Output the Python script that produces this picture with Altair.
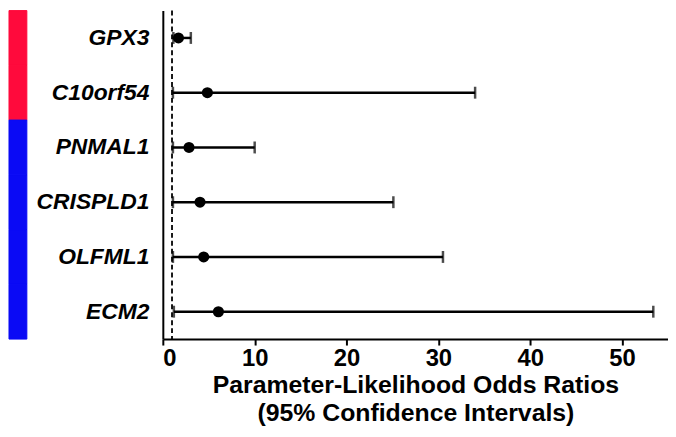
import altair as alt
import pandas as pd

genes = ["GPX3", "C10orf54", "PNMAL1", "CRISPLD1", "OLFML1", "ECM2"]
odds = [1.7, 4.85, 2.85, 4.05, 4.45, 6.05]
lower = [1.15, 1.1, 1.1, 1.1, 1.1, 1.2]
upper = [3.05, 34.0, 10.0, 25.1, 30.5, 53.4]
group = ["Up", "Up", "Down", "Down", "Down", "Down"]
x_ticks = [0, 10, 20, 30, 40, 50]
ref_line = [1]

df = pd.DataFrame({"gene": genes, "odds": odds, "lo": lower, "hi": upper, "group": group})
ref = pd.DataFrame({"v": ref_line})

FONT = "Liberation Sans"

y_enc = alt.Y("gene:N", sort=genes,
              scale=alt.Scale(paddingInner=0, paddingOuter=0),
              axis=alt.Axis(title=None, labelFont=FONT, labelFontSize=23,
                            labelFontWeight="bold", labelFontStyle="italic",
                            labelColor="black", labelPadding=14, ticks=False,
                            domainColor="black", domainWidth=2))

x_scale = alt.Scale(domain=[0, 55], nice=False)
x_axis = alt.Axis(values=x_ticks, grid=False, labelFont=FONT, labelFontSize=24,
                  labelFontWeight="bold", labelColor="black", tickColor="black",
                  tickWidth=2, tickSize=6, domainColor="black", domainWidth=2,
                  labelPadding=2,
                  title=["Parameter-Likelihood Odds Ratios", "(95% Confidence  Intervals)"],
                  titleFont=FONT, titleFontSize=25, titleFontWeight="bold",
                  titleColor="black", titlePadding=2, titleLineHeight=28)

grp_scale = alt.Scale(domain=["Up", "Down"], range=["#FF0A3C", "#0A0AF5"])
side = alt.Chart(df).mark_rect(strokeWidth=1).encode(
    x=alt.value(-155), x2=alt.value(-137),
    y=y_enc,
    color=alt.Color("group:N", scale=grp_scale, legend=None),
    stroke=alt.Stroke("group:N", scale=grp_scale, legend=None),
)

dash = alt.Chart(ref).mark_rule(strokeDash=[5, 3], strokeWidth=1.8, color="black").encode(
    x=alt.X("v:Q", scale=x_scale, axis=x_axis)
)

bars = alt.Chart(df).mark_rule(strokeWidth=2.5, color="black").encode(
    x=alt.X("lo:Q", scale=x_scale, axis=x_axis), x2="hi:Q", y=y_enc
)

cap_lo = alt.Chart(df).mark_tick(orient="vertical", size=12, thickness=2.5, color="black").encode(
    x=alt.X("lo:Q", scale=x_scale, axis=x_axis), y=y_enc
)
cap_hi = alt.Chart(df).mark_tick(orient="vertical", size=12, thickness=2.5, color="black").encode(
    x=alt.X("hi:Q", scale=x_scale, axis=x_axis), y=y_enc
)

pts = alt.Chart(df).mark_point(filled=True, size=125, color="black", opacity=1).encode(
    x=alt.X("odds:Q", scale=x_scale, axis=x_axis), y=y_enc
)

chart = alt.layer(side, dash, bars, cap_lo, cap_hi, pts).properties(
    width=509, height=331, padding=0
).configure_view(stroke=None)

chart.save("out.html", embed_options={"renderer": "svg", "actions": False})
